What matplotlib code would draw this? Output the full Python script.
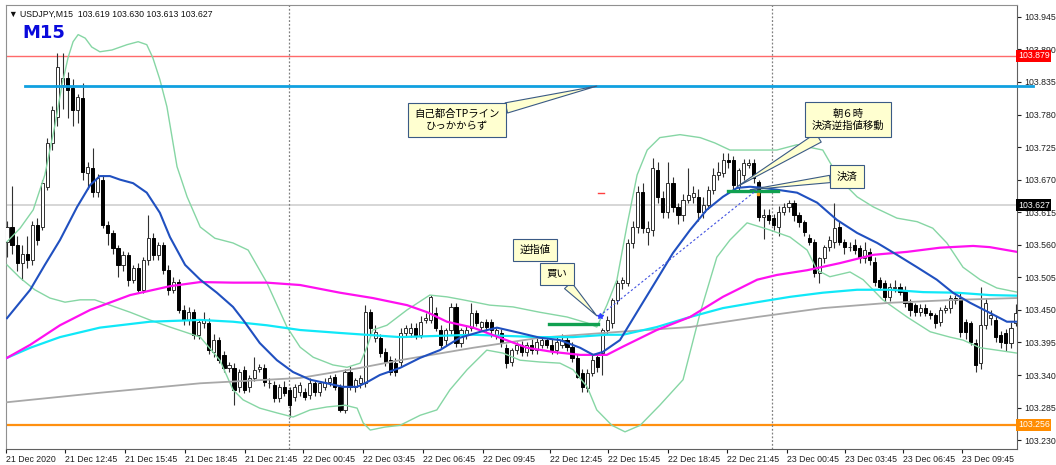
import matplotlib
matplotlib.use("Agg")
import matplotlib.pyplot as plt
import matplotlib.transforms as mtransforms
import numpy as np

# USDJPY M15 candles (21 Dec 09:45 -> 23 Dec)
opens = [
    103.565, 103.590, 103.560, 103.530, 103.545, 103.535, 103.593, 103.590, 103.658, 103.732,
    103.776, 103.830, 103.842, 103.825, 103.788, 103.808, 103.682, 103.690, 103.649, 103.670,
    103.593, 103.580, 103.555, 103.526, 103.543, 103.501, 103.521, 103.484, 103.534, 103.571,
    103.543, 103.560, 103.517, 103.484, 103.497, 103.450, 103.433, 103.446, 103.408, 103.428,
    103.428, 103.379, 103.399, 103.374, 103.352, 103.352, 103.320, 103.349, 103.320, 103.335,
    103.350, 103.352, 103.326, 103.323, 103.301, 103.320, 103.315, 103.303, 103.311, 103.311,
    103.306, 103.326, 103.311, 103.320, 103.328, 103.337, 103.320, 103.281, 103.345, 103.320,
    103.326, 103.326, 103.446, 103.403, 103.403, 103.379, 103.365, 103.360, 103.362, 103.411,
    103.411, 103.420, 103.408, 103.433, 103.433, 103.445, 103.416, 103.399, 103.416, 103.455,
    103.394, 103.408, 103.420, 103.445, 103.421, 103.430, 103.430, 103.408, 103.411, 103.386,
    103.362, 103.382, 103.391, 103.379, 103.391, 103.382, 103.391, 103.399, 103.391, 103.382,
    103.391, 103.399, 103.388, 103.369, 103.343, 103.318, 103.343, 103.370, 103.377, 103.416,
    103.428, 103.467, 103.496, 103.496, 103.563, 103.590, 103.649, 103.582, 103.585, 103.687,
    103.639, 103.615, 103.664, 103.624, 103.610, 103.636, 103.641, 103.641, 103.615, 103.627,
    103.653, 103.678, 103.682, 103.703, 103.703, 103.658, 103.678, 103.695, 103.698, 103.666,
    103.607, 103.610, 103.605, 103.590, 103.615, 103.624, 103.631, 103.610, 103.599, 103.571,
    103.565, 103.512, 103.538, 103.556, 103.565, 103.590, 103.565, 103.556, 103.560, 103.555,
    103.538, 103.548, 103.531, 103.501, 103.496, 103.472, 103.487, 103.489, 103.484, 103.462,
    103.458, 103.446, 103.453, 103.445, 103.441, 103.430, 103.450, 103.453, 103.470, 103.470,
    103.430, 103.428, 103.394, 103.360, 103.424, 103.436, 103.433, 103.408, 103.411, 103.394,
    103.428]
highs = [
    103.600, 103.660, 103.575, 103.560, 103.575, 103.600, 103.605, 103.670, 103.740, 103.795,
    103.884, 103.884, 103.852, 103.840, 103.815, 103.834, 103.700, 103.724, 103.680, 103.678,
    103.600, 103.585, 103.560, 103.550, 103.548, 103.525, 103.530, 103.540, 103.610, 103.580,
    103.565, 103.565, 103.525, 103.505, 103.502, 103.458, 103.455, 103.452, 103.435, 103.446,
    103.436, 103.410, 103.405, 103.380, 103.362, 103.360, 103.350, 103.355, 103.340, 103.370,
    103.358, 103.358, 103.335, 103.330, 103.325, 103.330, 103.320, 103.325, 103.328, 103.318,
    103.335, 103.332, 103.330, 103.335, 103.340, 103.342, 103.325, 103.350, 103.355, 103.335,
    103.340, 103.458, 103.452, 103.425, 103.410, 103.385, 103.372, 103.368, 103.420, 103.425,
    103.428, 103.428, 103.440, 103.445, 103.475, 103.455, 103.425, 103.420, 103.462, 103.462,
    103.420, 103.425, 103.462, 103.450, 103.432, 103.435, 103.435, 103.420, 103.418, 103.392,
    103.385, 103.395, 103.398, 103.395, 103.400, 103.402, 103.405, 103.405, 103.400, 103.405,
    103.410, 103.405, 103.395, 103.375, 103.350, 103.350, 103.375, 103.378, 103.420, 103.440,
    103.470, 103.500, 103.505, 103.570, 103.600, 103.660, 103.665, 103.600, 103.707, 103.700,
    103.650, 103.700, 103.675, 103.630, 103.645, 103.690, 103.660, 103.655, 103.640, 103.660,
    103.690, 103.700, 103.715, 103.715, 103.710, 103.690, 103.705, 103.705, 103.705, 103.670,
    103.620, 103.620, 103.612, 103.625, 103.630, 103.635, 103.635, 103.615, 103.602, 103.578,
    103.570, 103.540, 103.560, 103.575, 103.631, 103.600, 103.570, 103.565, 103.570, 103.560,
    103.565, 103.555, 103.540, 103.505, 103.500, 103.495, 103.500, 103.495, 103.490, 103.468,
    103.462, 103.460, 103.460, 103.450, 103.445, 103.455, 103.458, 103.475, 103.475, 103.478,
    103.435, 103.432, 103.400, 103.489, 103.470, 103.450, 103.440, 103.415, 103.418, 103.430,
    103.460]
lows = [
    103.540, 103.545, 103.515, 103.500, 103.520, 103.525, 103.560, 103.585, 103.652, 103.720,
    103.760, 103.790, 103.774, 103.760, 103.765, 103.670, 103.655, 103.640, 103.640, 103.588,
    103.560, 103.545, 103.505, 103.515, 103.490, 103.495, 103.478, 103.478, 103.525, 103.535,
    103.535, 103.510, 103.475, 103.478, 103.445, 103.425, 103.425, 103.400, 103.400, 103.420,
    103.375, 103.370, 103.360, 103.345, 103.345, 103.289, 103.312, 103.310, 103.312, 103.330,
    103.345, 103.322, 103.318, 103.295, 103.295, 103.305, 103.269, 103.296, 103.305, 103.298,
    103.300, 103.305, 103.305, 103.315, 103.322, 103.315, 103.277, 103.275, 103.315, 103.312,
    103.318, 103.320, 103.410, 103.395, 103.370, 103.355, 103.340, 103.338, 103.355, 103.405,
    103.405, 103.400, 103.402, 103.428, 103.428, 103.415, 103.385, 103.390, 103.410, 103.388,
    103.388, 103.400, 103.415, 103.422, 103.415, 103.415, 103.405, 103.400, 103.388, 103.352,
    103.355, 103.375, 103.372, 103.372, 103.375, 103.375, 103.385, 103.385, 103.375, 103.375,
    103.385, 103.380, 103.362, 103.335, 103.311, 103.312, 103.338, 103.345, 103.340, 103.410,
    103.420, 103.460, 103.485, 103.490, 103.555, 103.580, 103.580, 103.560, 103.575, 103.630,
    103.605, 103.605, 103.615, 103.595, 103.600, 103.630, 103.630, 103.600, 103.605, 103.620,
    103.645, 103.670, 103.675, 103.690, 103.655, 103.650, 103.670, 103.690, 103.665, 103.600,
    103.570, 103.595, 103.585, 103.575, 103.610, 103.615, 103.600, 103.590, 103.575, 103.560,
    103.505, 103.495, 103.530, 103.550, 103.555, 103.560, 103.545, 103.550, 103.545, 103.530,
    103.530, 103.525, 103.490, 103.485, 103.465, 103.465, 103.480, 103.475, 103.455, 103.440,
    103.440, 103.440, 103.440, 103.435, 103.420, 103.422, 103.445, 103.445, 103.460, 103.405,
    103.400, 103.390, 103.345, 103.350, 103.418, 103.425, 103.395, 103.385, 103.380, 103.385,
    103.422]
closes = [
    103.590, 103.560, 103.530, 103.545, 103.535, 103.593, 103.568, 103.664, 103.732, 103.788,
    103.861, 103.842, 103.822, 103.788, 103.810, 103.683, 103.692, 103.649, 103.673, 103.593,
    103.580, 103.555, 103.526, 103.543, 103.501, 103.521, 103.484, 103.534, 103.571, 103.543,
    103.560, 103.517, 103.484, 103.497, 103.450, 103.433, 103.446, 103.408, 103.430, 103.433,
    103.382, 103.399, 103.365, 103.352, 103.357, 103.315, 103.345, 103.315, 103.335, 103.349,
    103.353, 103.328, 103.326, 103.301, 103.320, 103.310, 103.289, 103.320, 103.323, 103.303,
    103.326, 103.311, 103.326, 103.328, 103.335, 103.320, 103.281, 103.345, 103.320, 103.332,
    103.335, 103.446, 103.420, 103.413, 103.377, 103.362, 103.345, 103.345, 103.411, 103.420,
    103.420, 103.408, 103.430, 103.436, 103.472, 103.420, 103.391, 103.416, 103.455, 103.394,
    103.416, 103.416, 103.445, 103.428, 103.430, 103.421, 103.416, 103.416, 103.394, 103.360,
    103.382, 103.391, 103.379, 103.391, 103.382, 103.396, 103.399, 103.391, 103.382, 103.396,
    103.399, 103.388, 103.369, 103.337, 103.320, 103.343, 103.365, 103.353, 103.416, 103.433,
    103.467, 103.496, 103.501, 103.563, 103.590, 103.649, 103.588, 103.588, 103.690, 103.641,
    103.615, 103.664, 103.624, 103.610, 103.636, 103.644, 103.648, 103.615, 103.627, 103.653,
    103.678, 103.683, 103.703, 103.700, 103.661, 103.687, 103.698, 103.698, 103.673, 103.607,
    103.610, 103.602, 103.593, 103.615, 103.624, 103.631, 103.610, 103.599, 103.582, 103.565,
    103.512, 103.538, 103.556, 103.568, 103.588, 103.565, 103.556, 103.557, 103.551, 103.538,
    103.551, 103.534, 103.497, 103.489, 103.472, 103.489, 103.489, 103.480, 103.462, 103.450,
    103.446, 103.453, 103.445, 103.441, 103.428, 103.450, 103.453, 103.470, 103.467, 103.413,
    103.413, 103.396, 103.357, 103.424, 103.462, 103.441, 103.404, 103.396, 103.394, 103.420,
    103.445]

# indicator lines (bar position, price)
bb_up_bars = [0, 2.6, 5.2, 7.5, 9.5, 10.9, 12.1, 13.1, 14.1, 15.5, 16.8, 18.4, 20.8, 23.8, 26.0,
              27.7, 28.9, 30.3, 31.7, 33.7, 35.7, 38.3, 41.2, 44.8, 47.8, 51.5, 55.5, 58.1, 60.7,
              64.6, 67.4, 70.0, 71.4, 72.5, 75.3, 79.3, 83.8, 87.2, 90.4, 95.7, 100.3, 105.6, 111.0,
              115.0, 116.9, 118.9, 120.9, 122.9, 124.9, 126.9, 129.4, 133.4, 137.4, 140.3, 143.3,
              148.3, 152.6, 156.6, 161.7, 165.1, 168.5, 171.7, 176.4, 180.4, 183.5, 186.3, 189.5,
              192.9, 196.2, 200.2]
bb_up = [103.565, 103.588, 103.619, 103.678, 103.762, 103.830, 103.876, 103.903, 103.915, 103.909,
         103.894, 103.886, 103.889, 103.898, 103.903, 103.898, 103.876, 103.839, 103.793, 103.692,
         103.641, 103.590, 103.571, 103.563, 103.551, 103.496, 103.421, 103.387, 103.370, 103.357,
         103.353, 103.360, 103.388, 103.416, 103.424, 103.450, 103.475, 103.472, 103.467, 103.458,
         103.455, 103.446, 103.438, 103.428, 103.421, 103.458, 103.501, 103.593, 103.678, 103.720,
         103.741, 103.746, 103.741, 103.732, 103.720, 103.720, 103.720, 103.729, 103.720, 103.670,
         103.641, 103.624, 103.605, 103.599, 103.588, 103.563, 103.522, 103.501, 103.487, 103.480]
bb_lo_bars = [0, 2.6, 5.5, 8.5, 11.5, 14.5, 17.4, 20.4, 24.4, 28.3, 32.3, 38.3, 42.2, 44.8, 46.8,
              50.1, 53.5, 56.7, 60.1, 63.4, 67.0, 69.4, 70.6, 72.0, 74.9, 77.9, 81.9, 85.2, 87.8,
              91.2, 95.1, 98.3, 101.7, 105.6, 109.6, 112.2, 115.0, 116.9, 119.9, 122.5, 125.5, 129.4,
              134.0, 137.4, 140.7, 143.3, 146.7, 151.2, 155.2, 158.6, 160.6, 163.1, 167.1, 169.7,
              173.6, 178.4, 183.0, 186.9, 189.5, 192.9, 196.2, 200.2]
bb_lo = [103.526, 103.504, 103.484, 103.470, 103.463, 103.467, 103.467, 103.458, 103.446, 103.433,
         103.421, 103.404, 103.365, 103.315, 103.298, 103.284, 103.276, 103.269, 103.281, 103.286,
         103.289, 103.284, 103.259, 103.247, 103.252, 103.255, 103.272, 103.281, 103.315, 103.349,
         103.382, 103.377, 103.365, 103.362, 103.360, 103.349, 103.320, 103.281, 103.255, 103.244,
         103.255, 103.289, 103.332, 103.445, 103.539, 103.568, 103.597, 103.585, 103.573, 103.551,
         103.517, 103.506, 103.514, 103.501, 103.467, 103.438, 103.413, 103.404, 103.399, 103.386,
         103.382, 103.377]
blue_bars = [0, 4.6, 7.5, 10.5, 13.9, 16.5, 18.4, 20.4, 22.4, 25.0, 27.7, 30.3, 32.3, 35.3, 38.3,
             41.6, 44.8, 46.8, 50.1, 53.5, 56.7, 60.1, 63.4, 66.6, 69.4, 71.4, 73.9, 77.9, 81.9,
             85.8, 89.8, 93.8, 97.1, 101.7, 105.6, 109.6, 113.6, 116.2, 118.1, 121.5, 125.5, 128.8,
             132.0, 135.4, 138.7, 141.9, 144.7, 147.3, 149.9, 152.6, 156.6, 160.6, 164.5, 168.5,
             172.5, 176.4, 180.4, 184.3, 187.5, 190.9, 194.8, 198.2, 200.2]
ma_blue = [103.436, 103.484, 103.526, 103.568, 103.624, 103.661, 103.676, 103.676, 103.670, 103.664,
           103.648, 103.614, 103.573, 103.526, 103.501, 103.479, 103.455, 103.433, 103.394, 103.365,
           103.345, 103.332, 103.326, 103.320, 103.320, 103.328, 103.340, 103.352, 103.369, 103.382,
           103.403, 103.413, 103.420, 103.411, 103.403, 103.399, 103.386, 103.374, 103.379, 103.399,
           103.455, 103.501, 103.546, 103.585, 103.619, 103.641, 103.656, 103.658, 103.656, 103.653,
           103.648, 103.631, 103.602, 103.580, 103.563, 103.543, 103.522, 103.501, 103.479, 103.462,
           103.445, 103.430, 103.430]
magenta_bars = [0, 4.6, 10.5, 16.5, 24.4, 32.3, 38.3, 44.8, 51.5, 58.1, 66.0, 72.5, 79.3, 83.3,
                87.2, 92.4, 97.7, 103.1, 108.2, 113.6, 118.9, 122.1, 128.8, 135.4, 141.9, 148.7,
                152.6, 158.6, 165.1, 171.7, 178.4, 184.9, 191.5, 194.8, 200.2]
ma_magenta = [103.369, 103.391, 103.424, 103.450, 103.475, 103.490, 103.497, 103.496, 103.496,
              103.492, 103.479, 103.470, 103.458, 103.446, 103.430, 103.420, 103.403, 103.386,
              103.379, 103.374, 103.374, 103.388, 103.416, 103.438, 103.472, 103.501, 103.509,
              103.517, 103.529, 103.543, 103.548, 103.555, 103.558, 103.556, 103.548]
cyan_bars = [0, 4.6, 10.5, 18.4, 28.3, 38.3, 44.8, 51.5, 58.1, 66.0, 77.9, 92.4, 105.6, 112.2,
             118.9, 122.1, 128.8, 135.4, 141.9, 148.7, 155.2, 161.7, 168.5, 175.0, 181.6, 188.3,
             194.8, 200.2]
ma_cyan = [103.369, 103.386, 103.404, 103.420, 103.430, 103.433, 103.430, 103.424, 103.416, 103.411,
           103.404, 103.408, 103.404, 103.404, 103.408, 103.408, 103.421, 103.438, 103.453, 103.463,
           103.472, 103.479, 103.484, 103.484, 103.480, 103.479, 103.475, 103.474]
gray_bars = [0, 18.4, 38.3, 58.1, 70.0, 77.9, 92.4, 105.6, 121.5, 135.4, 148.7, 161.7, 175.0,
             188.3, 200.2]
ma_gray = [103.294, 103.310, 103.326, 103.335, 103.352, 103.365, 103.386, 103.403, 103.413, 103.421,
           103.438, 103.453, 103.462, 103.467, 103.470]

price_ticks = [103.230, 103.285, 103.340, 103.395, 103.450, 103.505, 103.560,
               103.615, 103.670, 103.725, 103.780, 103.835, 103.890, 103.945]
time_labels = ["21 Dec 2020", "21 Dec 12:45", "21 Dec 15:45", "21 Dec 18:45", "21 Dec 21:45",
               "22 Dec 00:45", "22 Dec 03:45", "22 Dec 06:45", "22 Dec 09:45", "22 Dec 12:45",
               "22 Dec 15:45", "22 Dec 18:45", "22 Dec 21:45", "23 Dec 00:45", "23 Dec 03:45",
               "23 Dec 06:45", "23 Dec 09:45"]
time_label_bars = [-0.15, 11.5, 23.4, 35.3, 47.2, 58.7, 70.6, 82.5, 94.3, 107.6,
                   119.1, 131.0, 142.7, 154.6, 166.1, 177.6, 189.3]
day_breaks = [55.9, 151.6]

red_level = 103.879
tp_level = 103.828
bid_level = 103.627
orange_level = 103.256

plt.rcParams['font.family'] = ['Liberation Sans', 'DejaVu Sans']
jp = ['Noto Sans CJK JP', 'DejaVu Sans']

fig = plt.figure(figsize=(10.56, 4.65), dpi=100)
ax = fig.add_axes([6/1056, 1 - 449/465, (1017 - 6)/1056, (449 - 5)/465])
ax.set_xlim(-0.2, 200.2)
ax.set_ylim(103.215, 103.965)

o = np.array(opens); h = np.array(highs); l = np.array(lows); c = np.array(closes)
x = np.arange(len(o))
up = c >= o
body_lo = np.minimum(o, c)
body_h = np.maximum(np.abs(c - o), 0.0008)

#candles
ax.vlines(x, l, h, color='#303030', lw=0.8, zorder=3)
ax.bar(x[up], body_h[up], bottom=body_lo[up], width=0.62, color='white',
       edgecolor='#303030', lw=0.7, zorder=4)
ax.bar(x[~up], body_h[~up], bottom=body_lo[~up], width=0.62, color='black',
       edgecolor='black', lw=0.7, zorder=4)

#indicators
ax.plot(bb_up_bars, bb_up, color='#86D6A4', lw=1.0, zorder=5)
ax.plot(bb_lo_bars, bb_lo, color='#86D6A4', lw=1.0, zorder=5)
ax.plot(gray_bars, ma_gray, color='#A8A8A8', lw=1.3, zorder=5)
ax.plot(cyan_bars, ma_cyan, color='#10E8F8', lw=1.6, zorder=5)
ax.plot(magenta_bars, ma_magenta, color='#FF10F0', lw=1.6, zorder=5)
ax.plot(blue_bars, ma_blue, color='#2050C0', lw=1.5, zorder=6)

# horizontal levels
ax.axhline(red_level, color='#FF6A6A', lw=1.0, zorder=2)
ax.axhline(bid_level, color='#D0D0D0', lw=1.2, zorder=1)
ax.axhline(orange_level, color='#FF9010', lw=1.6, zorder=2)
ax.plot([3.6, 203.3], [tp_level, tp_level], color='#10A0E0', lw=2.0, zorder=6, clip_on=False)

for b in day_breaks:
    ax.axvline(b, color='#808080', lw=0.9, ls=(0, (1.5, 1.5)), zorder=2)

# trade marks
ax.plot([107.4, 117.1], [103.426, 103.426], color='#10A050', lw=2.4, zorder=7)
ax.plot([142.9, 152.8], [103.651, 103.651], color='#10A050', lw=2.4, zorder=7)
ax.plot([117.5, 148.7], [103.440, 103.653], color='#4050E0', lw=0.8, ls=(0, (2, 2)), zorder=7)
ax.plot([117.5], [103.440], marker='*', ms=4, color='#3040FF', zorder=8)
ax.plot([148.9], [103.646], marker='s', ms=2, color='#F0A020', zorder=8)
ax.plot([117.2, 118.4], [103.648, 103.648], color='#FF4040', lw=1.0, zorder=7)

# callouts
def callout(text, tip, pos, tail=1.0):
    kw = dict(fontsize=7.5, family=jp, ha='center', va='center', zorder=10,
              bbox=dict(boxstyle='square,pad=0.6', fc='#FFFFD0', ec='#3A5A85', lw=0.8))
    if tip is None:
        ax.text(pos[0], pos[1], text, linespacing=1.25, **kw)
    else:
        ax.annotate(text, xy=tip, xytext=pos, linespacing=1.25,
                    arrowprops=dict(arrowstyle='wedge,tail_width=%.2f,shrink_factor=0.5' % tail,
                                    fc='#FFFFD0', ec='#3A5A85', lw=0.8, shrinkA=0, shrinkB=0),
                    **kw)

callout('自己都合TPライン\nひっかからず', (116.9, 103.828), (89.2, 103.771))
callout('朝６時\n決済逆指値移動', (144.7, 103.658), (166.7, 103.771))
callout('決済', (147.3, 103.653), (166.5, 103.675), tail=0.7)
callout('逆指値', None, (104.7, 103.551))
callout('買い', (116.9, 103.440), (109.0, 103.511), tail=0.9)

# axes styling
ax.yaxis.tick_right()
ax.set_yticks(price_ticks)
ax.set_yticklabels(['%.3f' % p for p in price_ticks])
ax.tick_params(axis='y', length=3, width=0.8, labelsize=6.3, pad=2, colors='#202020')
ax.set_xticks(time_label_bars)
ax.set_xticklabels(time_labels, ha='left')
ax.tick_params(axis='x', length=3, width=0.8, labelsize=6.3, pad=1.5, colors='#202020')
for s in ['left', 'top']:
    ax.spines[s].set_color('#909090')
for s in ['right', 'bottom']:
    ax.spines[s].set_color('#606060')

trans = mtransforms.blended_transform_factory(ax.transAxes, ax.transData)
for lvl, col in [(red_level, '#FF0000'), (bid_level, '#000000'), (orange_level, '#FF8C00')]:
    ax.text(1.001, lvl, '%.3f' % lvl, transform=trans, ha='left', va='center', fontsize=6.3,
            color='white', zorder=12, clip_on=False,
            bbox=dict(boxstyle='square,pad=0.18', fc=col, ec='none'))

fig.text(9/1056, 1 - 14/465, '▼ USDJPY,M15  103.619 103.630 103.613 103.627',
         fontsize=6.3, va='center', color='#101010')
fig.text(22/1056, 1 - 33/465, 'M15', fontsize=13, weight='bold', color='#0A0ADC',
         va='center', family='DejaVu Sans')

fig.savefig('out.png', dpi=100)
